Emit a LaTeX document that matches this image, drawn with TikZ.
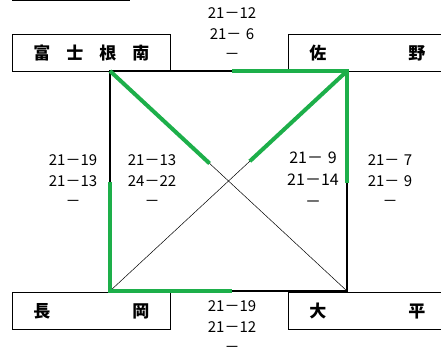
\documentclass[tikz,border=0pt]{standalone}
\usepackage{fontspec}
\setmainfont{Noto Sans CJK JP}
\usetikzlibrary{positioning,calc}
\definecolor{WinGreen}{HTML}{1DAF4A}

\begin{document}
\begin{tikzpicture}[x=1pt,y=-1pt]
    \tikzset{team/.style={draw,line width=0.9pt,text width=116pt,minimum height=37pt,inner xsep=21pt,inner ysep=0pt,align=left,anchor=north west,font=\fontsize{17}{17}\selectfont\bfseries},
      score/.style={align=center,inner sep=0pt,font=\fontsize{15}{20.5}\selectfont},
      court/.style={line width=1.4pt},
      cross/.style={line width=0.5pt},
      win/.style={WinGreen,line width=4pt}}
    \newcommand{\gapdigit}{\hspace{0.3em}}
    \useasboundingbox (0,0) rectangle (441,350);
    \draw[line width=0.9pt] (12,0.5) -- (130,0.5);
    \node[team] (fuji) at (12,34) {富\hfill 士\hfill 根\hfill 南};
    \node[team] (sano) at (288,34) {佐\hfill 野};
    \node[team] (naga) at (12,292) {長\hfill 岡};
    \node[team] (ohira) at (288,292) {大\hfill 平};
    \coordinate (tl) at (110,71);
    \coordinate (tr) at (347,71);
    \coordinate (bl) at (110,291);
    \coordinate (br) at (347,291);
    \draw[court] (tl) rectangle (br);
    \draw[cross] (tl) -- (br);
    \draw[cross] (tr) -- (bl);
    % winners
    \draw[win] (tl) -- ($(tl)!0.42!(br)$);
    \draw[win] ($(tl)!0.515!(tr)$) -- (tr) -- ($(tr)!0.51!(br)$);
    \draw[win] (tr) -- ($(tr)!0.41!(bl)$);
    \draw[win] ($(bl)!0.495!(tl)$) -- (bl) -- ($(bl)!0.515!(br)$);
    \node[score] (top) at (232,34) {21－12\\21－\gapdigit 6\\－};
    \node[score] (left) at (73,181) {21－19\\21－13\\－};
    \node[score] (inl) at (152,181) {21－13\\24－22\\－};
    \node[score,font=\fontsize{16}{22}\selectfont] (inr) at (313,180) {21－\gapdigit 9\\21－14\\－};
    \node[score] (right) at (390,181) {21－\gapdigit 7\\21－\gapdigit 9\\－};
    \node[score] (bottom) at (232,327) {21－19\\21－12\\－};
\end{tikzpicture}
\end{document}
